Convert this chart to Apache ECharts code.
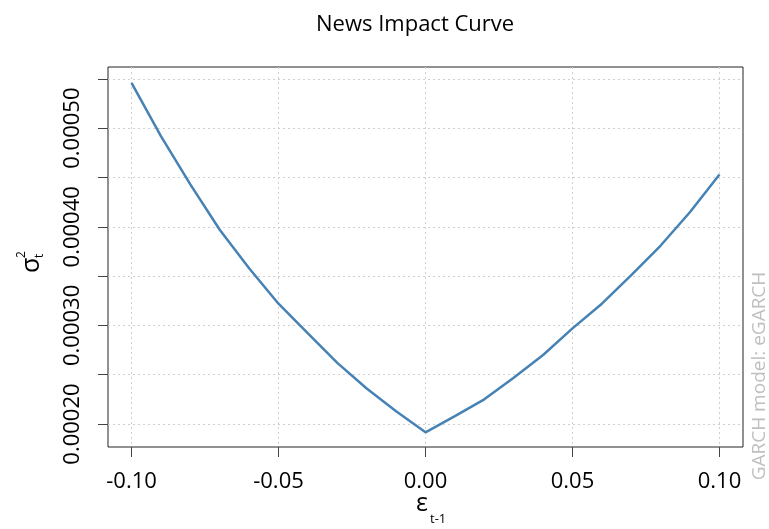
<!DOCTYPE html>
<html>
<head>
<meta charset="utf-8">
<script src="https://cdn.jsdelivr.net/npm/echarts@6/dist/echarts.min.js"></script>
<style>
  html, body { margin: 0; padding: 0; background: #ffffff; }
  #chart { width: 769px; height: 529px; }
</style>
</head>
<body>
<div id="chart"></div>
<script>
// ---- data ----
const epsValues = [-0.10, -0.09, -0.08, -0.07, -0.06, -0.05, -0.04, -0.03, -0.02, -0.01, 0.00,
                   0.01, 0.02, 0.03, 0.04, 0.05, 0.06, 0.07, 0.08, 0.09, 0.10];
const sigma2Values = [0.000546, 0.000492, 0.000443, 0.000397, 0.000358, 0.000322, 0.000292, 0.000262, 0.000236, 0.000213, 0.0001916,
                      0.000208, 0.000225, 0.000247, 0.000270, 0.000297, 0.000322, 0.000351, 0.000381, 0.000415, 0.000453];
const xTickValues = [-0.10, -0.05, 0.00, 0.05, 0.10];
const yTickValues = [0.00020, 0.00025, 0.00030, 0.00035, 0.00040, 0.00045, 0.00050, 0.00055];
const yLabelValues = [0.00020, 0.00030, 0.00040, 0.00050];
const titleText = 'News Impact Curve';
const sideText = 'GARCH model: eGARCH';

const FONT = '"Open Sans", "Liberation Sans", sans-serif';
const chart = echarts.init(document.getElementById('chart'), null, { renderer: 'canvas' });

const seriesData = epsValues.map((e, i) => [e, sigma2Values[i]]);

chart.setOption({
  animation: false,
  backgroundColor: '#ffffff',
  title: {
    text: titleText,
    left: 311,
    top: 9,
    textStyle: { fontFamily: FONT, fontSize: 22, fontWeight: 'normal', color: '#000' }
  },
  grid: {
    left: 108, right: 26, top: 67, bottom: 82,
    show: true, borderColor: '#222', borderWidth: 1, backgroundColor: 'transparent'
  },
  xAxis: {
    type: 'value',
    min: -0.108, max: 0.108,
    axisLine: { show: false, onZero: false },
    axisTick: { show: true, inside: false, length: 10, lineStyle: { color: '#444', width: 1 }, customValues: xTickValues },
    axisLabel: {
      customValues: xTickValues,
      formatter: v => v.toFixed(2),
      fontFamily: FONT, fontSize: 22, color: '#000', margin: 24
    },
    splitLine: { show: true, lineStyle: { color: '#d0d0d0', type: [2, 3], width: 1 } }
  },
  yAxis: {
    type: 'value',
    min: 0.0001767, max: 0.000562,
    axisLine: { show: false, onZero: false },
    axisTick: { show: true, inside: false, length: 10, lineStyle: { color: '#444', width: 1 }, customValues: yTickValues },
    axisLabel: {
      customValues: yLabelValues,
      formatter: v => v.toFixed(5),
      rotate: 90,
      fontFamily: FONT, fontSize: 22, color: '#000', margin: 24
    },
    splitLine: { show: true, lineStyle: { color: '#d0d0d0', type: [2, 3], width: 1 } }
  },
  graphic: [
    {
      type: 'group', x: 32, y: 266, rotation: Math.PI / 2,
      children: [
        { type: 'text', x: -7, y: 0, style: { text: 'σ', font: '25px ' + FONT, fill: '#000', align: 'left', verticalAlign: 'middle' } },
        { type: 'text', x: 8, y: -10, style: { text: '2', font: '12px ' + FONT, fill: '#000', align: 'left', verticalAlign: 'middle' } },
        { type: 'text', x: 8, y: 8, style: { text: 't', font: '12px ' + FONT, fill: '#000', align: 'left', verticalAlign: 'middle' } }
      ]
    },
    { type: 'text', x: 416, y: 504, style: { text: 'ε', font: '25px ' + FONT, fill: '#000', align: 'left', verticalAlign: 'middle' } },
    { type: 'text', x: 430, y: 519, style: { text: 't-1', font: '13px ' + FONT, fill: '#000', align: 'left', verticalAlign: 'middle' } },
    { type: 'text', x: 760, y: 376, rotation: Math.PI / 2,
      style: { text: sideText, font: '19px ' + FONT, fill: '#c0c0c0', align: 'center', verticalAlign: 'middle' } }
  ],
  series: [{
    type: 'line',
    data: seriesData,
    showSymbol: false,
    smooth: false,
    lineStyle: { color: '#4682B4', width: 2.5 },
    emphasis: { disabled: true }
  }]
});
</script>
</body>
</html>
